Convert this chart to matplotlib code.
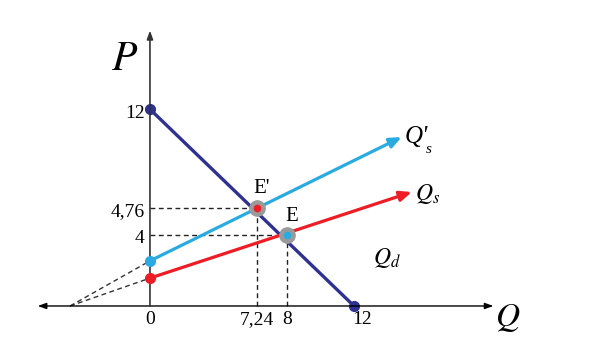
import matplotlib.pyplot as plt

plt.rcParams['mathtext.fontset'] = 'stix'
plt.rcParams['font.family'] = ['Liberation Serif', 'DejaVu Serif']

# demand and the two supply curves (positions as drawn in the picture)
demand_q = [0, 12]
demand_p = [12, 0]
supply_q = [0, 15.4]
supply_p = [1.7, 6.95]
supply2_q = [0, 14.8]
supply2_p = [2.75, 10.3]
# point where the dashed extensions of the supply curves meet
dash_origin_q = -4.7

# equilibria E and E'
eq_q = [8.05, 6.3]
eq_p = [4.35, 5.98]
eq_names = ["E", "E'"]

p_tick_pos = [12, 5.98, 4.35]
p_tick_labels = ["12", "4,76", "4"]
q_tick_pos = [0, 6.3, 8.05, 12]
q_tick_labels = ["0", "7,24", "8", "12"]

navy = '#2e3192'
cyan = '#29abe2'
red = '#ee1c25'
axis_col = '#333333'

fig = plt.figure(figsize=(5.91, 3.56), dpi=100)
ax = fig.add_axes([0, 0, 1, 1])
ax.set_xlim(-8.82, 25.94)
ax.set_ylim(-3.05, 18.66)
ax.axis('off')

# axes with arrows
ax.annotate('', xy=(20.2, 0), xytext=(-6.6, 0),
            arrowprops=dict(arrowstyle='<|-|>,head_length=0.5,head_width=0.18',
                            color='black', lw=1.0, shrinkA=0, shrinkB=0))
ax.annotate('', xy=(0, 16.8), xytext=(0, 0),
            arrowprops=dict(arrowstyle='-|>,head_length=0.5,head_width=0.18',
                            color=axis_col, lw=1.2, shrinkA=0, shrinkB=0))

# dashed guides
dash = (0, (3.5, 2.5))
for q, p in zip(eq_q, eq_p):
    ax.plot([0, q], [p, p], ls=dash, color='#222222', lw=1.0)
    ax.plot([q, q], [0, p], ls=dash, color='#222222', lw=1.0)
ax.plot([dash_origin_q, 0], [0, supply_p[0]], ls=dash, color='#333333', lw=1.0)
ax.plot([dash_origin_q, 0], [0, supply2_p[0]], ls=dash, color='#333333', lw=1.0)

# demand
ax.plot(demand_q, demand_p, color=navy, lw=2.4, solid_capstyle='round')
ax.plot(demand_q, demand_p, 'o', color=navy, ms=7)

# supply curves with arrow heads
for qs, ps, c in [(supply_q, supply_p, red), (supply2_q, supply2_p, cyan)]:
    ax.annotate('', xy=(qs[1], ps[1]), xytext=(qs[0], ps[0]),
                arrowprops=dict(arrowstyle='-|>,head_length=0.7,head_width=0.3',
                                color=c, lw=2.3, shrinkA=0, shrinkB=0))
    ax.plot(qs[0], ps[0], 'o', color=c, ms=7, zorder=5)

# equilibrium markers
ax.plot(eq_q, eq_p, 'o', color='#9a9a9a', ms=11, zorder=6)
ax.plot(eq_q[0], eq_p[0], 'o', color=cyan, ms=4.5, zorder=7)
ax.plot(eq_q[1], eq_p[1], 'o', color=red, ms=4.5, zorder=7)
ax.text(eq_q[0] - 0.1, eq_p[0] + 0.55, eq_names[0], fontsize=15, ha='left', va='bottom')
ax.text(eq_q[1] - 0.2, eq_p[1] + 0.6, eq_names[1], fontsize=15, ha='left', va='bottom')

# tick labels
for pos, lab in zip(p_tick_pos, p_tick_labels):
    ax.text(-0.3, pos - 0.25, lab, fontsize=14, ha='right', va='center')
for pos, lab in zip(q_tick_pos, q_tick_labels):
    ax.text(pos + (0.5 if lab == "12" else 0), -0.85, lab, fontsize=14, ha='center', va='center')

# curve and axis names
ax.text(-0.7, 15.0, r'$P$', fontsize=30, ha='right', va='center')
ax.text(20.3, -0.75, r'$Q$', fontsize=24, ha='left', va='center')
# Q's: prime written as a plain apostrophe, subscript as separate text
ax.text(14.95, 10.3, "Q'", fontsize=18, style='italic', ha='left', va='center')
ax.text(16.2, 9.55, "s", fontsize=11, style='italic', ha='left', va='center')
ax.text(15.6, 6.85, r'$Q_s$', fontsize=17, ha='left', va='center')
ax.text(13.1, 2.9, r'$Q_d$', fontsize=17, ha='left', va='center')

fig.savefig('out.png', dpi=100)
